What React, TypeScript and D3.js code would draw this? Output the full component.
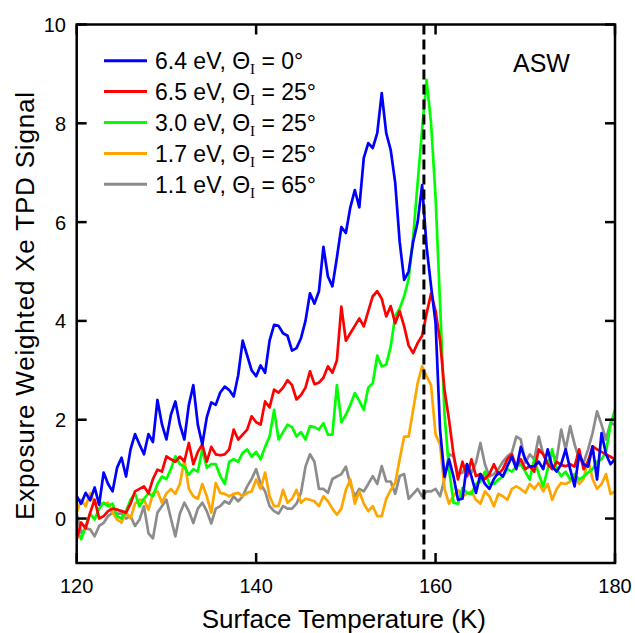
import * as d3 from 'd3';

// temperature grid (K), every 0.5 K
const temps = d3.range(121).map((i) => 120 + i * 0.5);

const sig64 = [
  0.45, 0.3, 0.52, 0.37, 0.63, 0.28, 0.93, 0.7, 0.55, 1.03,
  1.23, 0.85, 1.4, 1.71, 1.5, 1.3, 1.71, 1.55, 2.4, 1.91,
  1.6, 2.1, 2.37, 1.9, 1.6, 2.3, 2.7, 1.9, 1.5, 2.05,
  2.35, 2.3, 2.55, 2.67, 2.6, 2.47, 2.9, 3.6, 3.3, 3.0,
  2.88, 3.1, 2.95, 3.6, 3.92, 3.9, 3.75, 3.7, 3.4, 3.45,
  3.65, 4.0, 4.56, 4.35, 4.6, 5.5, 4.9, 4.7, 5.28, 5.9,
  5.78, 6.3, 6.65, 6.3, 7.3, 7.6, 7.5, 7.8, 8.61, 7.8,
  7.46, 6.8, 5.6, 4.83, 5.0, 5.6, 6.0, 6.75, 5.5, 4.7,
  3.96, 1.8, 0.85, 1.2, 0.85, 0.38, 0.4, 1.1, 0.85, 0.52,
  0.9, 0.7, 0.6, 0.8, 0.93, 0.85, 1.06, 1.25, 1.0, 1.45,
  1.2, 1.05, 1.06, 1.15, 1.0, 1.4, 1.05, 0.95, 1.1, 1.4,
  1.0, 0.65, 1.3, 1.1, 1.05, 1.46, 0.79, 1.73, 1.3, 1.1,
  1.2,
];
const sig65 = [
  -0.42, -0.08, -0.2, 0.12, 0.38, 0.0, 0.05, 0.15, 0.2, 0.18,
  0.15, 0.12, 0.3, 0.55, 0.6, 0.65, 0.51, 0.8, 0.99, 0.95,
  1.26, 1.2, 1.15, 1.25, 1.16, 1.53, 1.1, 1.35, 1.5, 1.15,
  1.45, 1.3, 1.28, 1.3, 1.4, 1.8, 1.6, 1.7, 1.8, 2.07,
  1.95, 1.9, 2.37, 2.25, 2.61, 2.55, 2.65, 2.8, 2.7, 2.41,
  2.5, 2.65, 2.98, 2.72, 2.75, 2.85, 3.08, 2.95, 3.2, 4.29,
  3.6, 3.75, 3.9, 4.05, 3.89, 4.2, 4.5, 4.6, 4.45, 4.09,
  4.3, 3.95, 4.2, 3.89, 3.5, 3.35, 3.55, 3.7, 4.15, 4.56,
  4.2, 3.6, 2.6, 2.0, 1.3, 0.79, 1.15, 0.85, 1.2, 0.86,
  0.9, 0.8, 0.9, 1.1, 0.9, 1.0, 1.2, 1.3, 1.05, 1.2,
  1.0, 1.06, 0.95, 1.4, 1.3, 1.1, 1.0, 1.15, 1.08, 1.06,
  1.1, 1.05, 1.4, 1.0, 1.15, 1.46, 1.4, 1.35, 1.3, 1.25,
  1.2,
];
const sig30 = [
  -0.22, -0.42, -0.15, 0.1, -0.02, 0.2, 0.32, 0.25, 0.3, 0.05,
  0.0, 0.15, 0.38, 0.51, 0.25, 0.4, 0.51, 0.45, 0.7, 0.85,
  0.8, 1.0, 1.26, 1.1, 1.05, 0.89, 1.0, 0.95, 1.4, 1.03,
  1.1, 1.1, 0.86, 0.7, 1.15, 1.2, 1.15, 1.33, 1.4, 1.25,
  1.35, 1.2, 1.45, 1.66, 2.2, 1.6, 1.75, 1.9, 1.85, 1.66,
  1.75, 1.6, 1.87, 1.85, 1.8, 1.93, 1.7, 1.7, 2.7, 1.95,
  2.1, 2.3, 2.54, 2.38, 2.2, 2.65, 2.74, 3.3, 3.08, 3.12,
  3.48, 4.1, 4.25, 4.5, 4.85, 5.7, 6.79, 7.87, 8.88, 8.0,
  6.5, 4.36, 2.1, 1.0, 0.32, 0.3, 0.62, 0.52, 0.5, 0.7,
  0.75, 0.95, 0.7, 0.7, 0.79, 0.85, 1.0, 0.95, 1.05, 1.1,
  0.95, 0.79, 1.2, 0.9, 0.65, 1.0, 1.4, 1.0, 0.86, 0.95,
  0.79, 0.9, 0.79, 0.85, 0.93, 1.0, 1.15, 1.2, 1.35, 1.9,
  2.2,
];
const sig17 = [
  0.12, 0.38, 0.25, 0.51, 0.3, 0.32, 0.3, 0.32, 0.12, -0.02,
  -0.08, 0.12, 0.0, 0.3, 0.38, 0.38, 0.18, 0.51, 0.55, 0.32,
  0.51, 0.6, 0.5, 0.7, 1.19, 0.6, 0.45, 0.4, 0.7, 0.45,
  0.12, 0.72, 0.52, 0.5, 0.45, 0.5, 0.52, 0.45, 0.52, 0.55,
  0.79, 0.6, 0.93, 0.45, 0.25, 0.25, 0.58, 0.32, 0.4, 0.58,
  0.32, 0.4, 0.38, 0.35, 0.25, 0.45, 0.35, 0.2, 0.08, 0.2,
  0.58, 0.79, 0.3, 0.55, 0.3, 0.15, 0.25, 0.05, 0.05, 0.4,
  0.58, 0.72, 1.2, 1.66, 1.66, 2.2, 2.74, 3.08, 2.88, 2.7,
  1.7, 1.5, 0.6, 0.3, 0.45, 0.58, 0.45, 0.5, 0.55, 0.38,
  0.3, 0.55, 0.45, 0.25, 0.5, 0.45, 0.38, 0.6, 0.65, 0.6,
  0.52, 0.7, 0.6, 0.72, 0.55, 0.7, 0.38, 0.6, 0.72, 0.7,
  0.75, 0.86, 0.7, 0.8, 1.2, 0.8, 0.6, 0.7, 0.9, 0.5,
  0.55,
];
const sig11 = [
  0.1, -0.29, -0.2, -0.22, -0.36, -0.15, -0.09, 0.05, 0.12, 0.1,
  0.1, 0.0, 0.05, -0.15, -0.02, 0.25, -0.3, -0.4, 0.12, 0.25,
  0.38, 0.0, -0.36, 0.1, 0.32, 0.15, -0.09, 0.2, 0.32, 0.15,
  -0.1, 0.2, 0.25, 0.35, 0.3, 0.45, 0.35, 0.45, 0.65, 0.8,
  1.0, 0.7, 0.55, 0.25, 0.15, 0.1, 0.25, 0.2, 0.2, 0.3,
  0.52, 1.05, 1.3, 1.15, 0.6, 0.6, 0.52, 0.8, 0.85, 0.9,
  1.05, 0.7, 0.45, 0.6, 0.55, 0.7, 0.86, 0.7, 1.06, 0.75,
  0.75, 0.5, 0.86, 0.9, 0.4, 0.5, 0.6, 0.45, 0.55, 0.55,
  0.6, 0.45, 0.8, 1.3, 1.26, 0.9, 0.93, 1.1, 0.93, 1.13,
  1.53, 1.1, 0.85, 0.9, 1.0, 1.15, 1.26, 1.33, 1.66, 1.6,
  1.13, 1.3, 1.2, 1.66, 1.3, 1.13, 1.3, 1.2, 1.8, 1.4,
  1.87, 1.5, 1.2, 1.13, 1.4, 1.73, 2.17, 1.9, 1.6, 1.94,
  1.9,
];

const energies = ['6.4 eV', '6.5 eV', '3.0 eV', '1.7 eV', '1.1 eV'];
const angles = ['0°', '25°', '25°', '25°', '65°'];
const colors = ['#0000ff', '#ff0000', '#00ff00', '#ffa500', '#8c8c8c'];
const signals = [sig64, sig65, sig30, sig17, sig11];

const xTicks = [120, 140, 160, 180];
const yTicks = [0, 2, 4, 6, 8, 10];
const markerTemp = 158.7;

const W = 635;
const H = 633;
const left = 76.7;
const right = 615;
const top = 24.5;
const bottom = 563;

export default function App() {
  const x = d3.scaleLinear().domain([120, 180]).range([left, right]);
  const y = d3.scaleLinear().domain([-0.9, 10]).range([bottom, top]);
  const line = d3
    .line<number>()
    .x((_, i) => x(temps[i]))
    .y((d) => y(d));

  const order = [4, 3, 2, 1, 0]; // gray drawn first, blue on top
  const font = 'Liberation Sans, Arial, sans-serif';

  return (
    <svg
      width={W}
      height={H}
      style={{ position: 'absolute', left: 0, top: 0, background: '#fff' }}
      fontFamily={font}
    >
      <defs>
        <clipPath id="plot">
          <rect x={left} y={top} width={right - left} height={bottom - top} />
        </clipPath>
      </defs>
      <g clipPath="url(#plot)">
        {order.map((k) => (
          <path
            key={k}
            d={line(signals[k]) || ''}
            fill="none"
            stroke={colors[k]}
            strokeWidth={2.7}
            strokeLinejoin="round"
          />
        ))}
        <line
          x1={x(markerTemp)}
          x2={x(markerTemp)}
          y1={top}
          y2={bottom}
          stroke="#000"
          strokeWidth={3}
          strokeDasharray="10,5"
        />
      </g>

      {/* frame */}
      <rect
        x={left}
        y={top}
        width={right - left}
        height={bottom - top}
        fill="none"
        stroke="#000"
        strokeWidth={2.5}
      />

      {/* x ticks, inward on top and bottom */}
      {xTicks.map((t) => (
        <g key={'x' + t}>
          <line x1={x(t)} x2={x(t)} y1={bottom} y2={bottom - 10} stroke="#000" strokeWidth={2.5} />
          <line x1={x(t)} x2={x(t)} y1={top} y2={top + 10} stroke="#000" strokeWidth={2.5} />
          <text x={x(t)} y={593} textAnchor="middle" fontSize={20}>
            {t}
          </text>
        </g>
      ))}

      {/* y ticks, inward on left and right */}
      {yTicks.map((t) => (
        <g key={'y' + t}>
          <line x1={left} x2={left + 10} y1={y(t)} y2={y(t)} stroke="#000" strokeWidth={2.5} />
          <line x1={right} x2={right - 10} y1={y(t)} y2={y(t)} stroke="#000" strokeWidth={2.5} />
          <text x={66} y={y(t) + 7.5} textAnchor="end" fontSize={20}>
            {t}
          </text>
        </g>
      ))}

      <text x={(left + right) / 2 - 2} y={628} textAnchor="middle" fontSize={26}>
        Surface Temperature (K)
      </text>
      <text
        transform="translate(34,306) rotate(-90)"
        textAnchor="middle"
        fontSize={26}
        textLength={428}
        lengthAdjust="spacing"
      >
        Exposure Weighted Xe TPD Signal
      </text>

      <text x={513} y={72} fontSize={25}>
        ASW
      </text>

      {/* legend */}
      {energies.map((e, i) => {
        const cy = 60.7 + i * 30.9;
        return (
          <g key={e + i}>
            <line x1={104} x2={147} y1={cy} y2={cy} stroke={colors[i]} strokeWidth={3} />
            <text x={155} y={cy + 8.3} fontSize={23}>
              {e}, Θ
              <tspan fontFamily="Liberation Serif, Times New Roman, serif" fontSize={15} dy={5}>
                I
              </tspan>
              <tspan dy={-5}> = {angles[i]}</tspan>
            </text>
          </g>
        );
      })}
    </svg>
  );
}
